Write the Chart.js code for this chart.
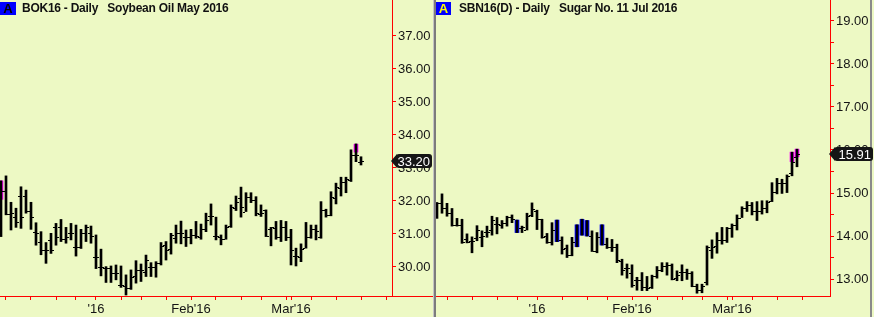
<!DOCTYPE html>
<html>
<head>
<meta charset="utf-8">
<script src="https://cdn.jsdelivr.net/npm/chart.js@4.4.1/dist/chart.umd.min.js"></script>
<style>
    html, body {
        margin: 0;
        padding: 0;
        width: 874px;
        height: 317px;
        overflow: hidden;
        background: #edf9c4;
        font-family: "Liberation Sans", Arial, sans-serif;
    }
    .panel { position: absolute; top: 0; height: 317px; z-index: 1; }
    #oilPanel { left: 0; width: 433px; }
    #sugarPanel { left: 436px; width: 438px; }
    .sep { position: absolute; top: 0; height: 317px; z-index: 0; }
    .badge {
        position: absolute;
        top: 2px;
        width: 16px;
        height: 13px;
        line-height: 13px;
        background: #0000ff;
        font-weight: bold;
        font-size: 13px;
        text-align: center;
        z-index: 2;
    }
    .title {
        position: absolute;
        top: 1px;
        font-weight: bold;
        font-size: 12px;
        line-height: 15px;
        letter-spacing: -0.25px;
        color: #111;
        white-space: pre;
        z-index: 2;
    }
</style>
</head>
<body>
<div class="sep" style="left:433px;width:1px;background:#c4c4c4"></div>
<div class="sep" style="left:434px;width:2px;background:#7c7c7c"></div>
<div class="sep" style="left:870px;width:2px;background:#8a8a8a"></div>

<div class="panel" id="oilPanel"><canvas id="oilChart" width="433" height="317"></canvas></div>
<div class="panel" id="sugarPanel"><canvas id="sugarChart" width="438" height="317"></canvas></div>

<div class="badge" style="left:0;color:#000">A</div>
<div class="title" style="left:22px">BOK16 - Daily   Soybean Oil May 2016</div>
<div class="badge" style="left:436px;width:15px;color:#ffff00">A</div>
<div class="title" style="left:459px">SBN16(D) - Daily   Sugar No. 11 Jul 2016</div>

<script>
// Kolory i czcionki
const RED = '#ff0000';
const TEXT = '#141414';
const FONT = 'Liberation Sans, Arial, sans-serif';

// BOK16 - olej sojowy, notowania dzienne (4 XII 2015 - 21 III 2016)
const oilOpen = [
    31.20, 32.31, 31.61, 31.51, 32.15, 32.15, 31.71, 31.07, 30.77, 30.52,
    30.82, 31.20, 31.20, 30.85, 31.02, 30.60, 30.62, 31.02, 31.02, 30.29,
    29.99, 29.96, 29.96, 29.81, 29.45, 29.42, 29.35, 29.73, 29.91, 29.86,
    30.01, 30.01, 30.11, 30.67, 30.55, 30.87, 31.02, 30.92, 30.92, 30.97,
    30.92, 31.14, 31.55, 30.94, 30.92, 30.84, 31.24, 31.78, 32.08, 31.68,
    32.13, 32.03, 31.61, 31.73, 31.14, 31.17, 30.92, 31.20, 30.90, 30.33,
    30.29, 30.57, 30.92, 31.14, 30.92, 31.73, 31.58, 32.08, 32.39, 32.56,
    32.64, 33.40, 33.19
];
const oilHigh = [
    32.61, 32.76, 31.96, 31.78, 32.43, 32.33, 31.96, 31.34, 31.07, 30.74,
    31.02, 31.32, 31.44, 31.20, 31.32, 31.27, 31.14, 31.27, 31.24, 30.97,
    30.54, 30.01, 30.03, 30.06, 30.03, 29.76, 29.91, 30.19, 30.09, 30.36,
    30.13, 30.16, 30.74, 30.77, 31.02, 31.27, 31.39, 31.12, 31.14, 31.38,
    31.30, 31.63, 31.91, 31.51, 30.97, 31.27, 31.88, 32.15, 32.42, 32.25,
    32.25, 32.13, 31.88, 31.73, 31.20, 31.38, 31.41, 31.38, 31.14, 30.57,
    30.70, 31.35, 31.27, 31.27, 31.98, 31.75, 32.28, 32.54, 32.72, 32.72,
    33.55, 33.73, 33.34
];
const oilLow = [
    30.92, 31.58, 31.12, 31.20, 31.17, 31.63, 31.14, 30.66, 30.37, 30.11,
    30.41, 30.66, 30.77, 30.72, 30.82, 30.33, 30.56, 30.77, 30.72, 29.95,
    29.73, 29.53, 29.53, 29.61, 29.38, 29.15, 29.32, 29.51, 29.56, 29.71,
    29.71, 29.69, 30.06, 30.21, 30.39, 30.72, 30.70, 30.62, 30.70, 30.87,
    30.84, 31.07, 31.27, 30.82, 30.67, 30.84, 31.20, 31.71, 31.51, 31.68,
    31.95, 31.55, 31.53, 30.92, 30.64, 30.84, 30.77, 30.80, 30.06, 30.03,
    30.16, 30.57, 30.87, 30.82, 30.87, 31.51, 31.55, 31.91, 32.15, 32.25,
    32.59, 33.19, 33.09
];
const oilClose = [
    32.30, 31.61, 31.63, 31.37, 31.51, 31.71, 31.51, 31.02, 30.52, 30.50,
    30.50, 30.92, 30.85, 30.92, 31.02, 30.60, 31.02, 31.20, 30.94, 30.29,
    29.99, 29.96, 29.81, 29.81, 29.45, 29.35, 29.71, 29.91, 29.91, 30.21,
    29.99, 30.11, 30.64, 30.52, 30.97, 31.02, 31.02, 30.92, 30.97, 30.94,
    31.14, 31.43, 31.53, 30.94, 30.84, 31.22, 31.83, 31.98, 31.81, 32.11,
    32.03, 31.63, 31.65, 30.94, 31.20, 30.92, 31.20, 30.90, 30.52, 30.33,
    30.54, 30.92, 31.14, 31.10, 31.73, 31.58, 32.13, 32.42, 32.56, 32.66,
    33.40, 33.40, 33.20
];
// wyróżnione (różowe) słupki
const oilPinkBars = [0, 71];
const oilPinkLow = [32.05, 33.48];
const oilPinkHigh = [32.61, 33.72];
const oilLast = 33.20;
const oilPriceTicks = [30, 31, 32, 33, 34, 35, 36, 37];
const oilDateTicks = [1, 6, 11, 15, 19, 24, 28, 33, 38, 43, 48, 52, 57, 58, 62, 67, 72, 77];
const oilDateLabels = ['', '', '', '', "'16", '', '', '', "Feb'16", '', '', '', '', "Mar'16", '', '', '', ''];

// SBN16 - cukier nr 11, notowania dzienne (3 XII 2015 - 18 III 2016)
const sugarOpen = [
    14.46, 14.76, 14.64, 14.54, 14.26, 14.26, 13.92, 13.89, 13.95, 13.98,
    14.10, 14.14, 14.29, 14.26, 14.31, 14.45, null, 14.18, 14.15, 14.49,
    14.57, 14.39, 14.00, 13.87, null, 13.91, 13.71, 13.56, null, null,
    null, 14.00, 13.66, null, 13.81, 13.75, 13.74, 13.42, 13.25, 13.13,
    12.98, 12.98, 12.82, 12.82, 13.07, 13.21, 13.30, 13.33, 13.02, 13.17,
    13.17, 13.13, 12.84, 12.74, 12.94, 13.68, 13.77, 13.91, 13.91, 14.18,
    14.26, 14.43, 14.64, 14.72, 14.59, 14.59, 14.64, 14.82, 15.03, 15.24,
    15.24, 15.46, 15.83
];
const sugarHigh = [
    14.78, 14.98, 14.76, 14.64, 14.41, 14.39, 14.05, 13.98, 14.24, 14.12,
    14.23, 14.46, 14.43, 14.36, 14.46, 14.49, 14.37, 14.23, 14.53, 14.77,
    14.60, 14.39, 14.06, 14.31, 14.37, 13.98, 13.79, 13.97, 14.26, 14.39,
    14.36, 14.12, 14.08, 14.26, 13.95, 13.92, 13.81, 13.46, 13.35, 13.33,
    13.04, 13.15, 13.06, 13.09, 13.29, 13.38, 13.38, 13.35, 13.19, 13.33,
    13.23, 13.17, 12.88, 12.88, 13.77, 13.91, 14.08, 14.20, 14.20, 14.28,
    14.49, 14.68, 14.80, 14.78, 14.80, 14.82, 14.82, 15.24, 15.34, 15.32,
    15.42, 15.95, 16.02
];
const sugarLow = [
    14.41, 14.53, 14.46, 14.23, 14.23, 13.83, 13.84, 13.61, 13.89, 13.75,
    13.97, 14.02, 14.05, 14.18, 14.23, 14.31, 14.08, 14.08, 14.14, 14.45,
    14.15, 13.95, 13.83, 13.79, 13.87, 13.58, 13.50, 13.54, 13.75, 14.02,
    14.00, 13.64, 13.61, 13.79, 13.71, 13.64, 13.38, 13.09, 13.02, 12.81,
    12.74, 12.73, 12.73, 12.78, 13.02, 13.17, 13.09, 12.98, 12.96, 12.96,
    12.99, 12.82, 12.67, 12.68, 12.86, 13.48, 13.60, 13.81, 13.85, 13.97,
    14.14, 14.43, 14.57, 14.49, 14.36, 14.51, 14.54, 14.80, 14.98, 14.99,
    15.01, 15.40, 15.61
];
const sugarClose = [
    14.76, 14.64, 14.54, 14.26, 14.26, 13.87, 13.87, 13.89, 14.15, 14.00,
    14.10, 14.37, 14.29, 14.31, 14.45, 14.39, null, 14.22, 14.46, 14.62,
    14.39, 13.97, 13.87, 14.14, null, 13.69, 13.56, 13.87, null, null,
    null, 13.66, 13.97, null, 13.74, 13.75, 13.44, 13.22, 13.25, 12.86,
    12.98, 12.82, 12.78, 13.06, 13.21, 13.30, 13.33, 12.99, 13.09, 13.17,
    13.13, 12.84, 12.74, 12.84, 13.74, 13.74, 13.91, 13.91, 14.18, 14.26,
    14.43, 14.64, 14.72, 14.59, 14.59, 14.64, 14.80, 15.03, 15.24, 15.24,
    15.40, 15.73, 15.91
];
// słupki wyróżnione na niebiesko (cały zakres) i różowo
const sugarBlueBars = [16, 24, 28, 29, 30, 33];
const sugarPinkBars = [71, 72];
const sugarPinkLow = [15.73, 15.84];
const sugarPinkHigh = [15.95, 16.02];
const sugarLast = 15.91;
const sugarPriceTicks = [13, 13.5, 14, 14.5, 15, 15.5, 16, 16.5, 17, 17.5, 18, 18.5, 19];
const sugarDateTicks = [2, 7, 12, 16, 20, 25, 30, 34, 39, 44, 49, 53, 58, 59, 63, 68, 73];
const sugarDateLabels = ['', '', '', '', "'16", '', '', '', "Feb'16", '', '', '', '', "Mar'16", '', '', ''];

/**
 * Kreski otwarcia (lewa) i zamknięcia (prawa) dla słupków OHLC
 */
function ohlcTicks(open, close) {
    return {
        id: 'ohlcTicks',
        afterDatasetsDraw(chart) {
            const { ctx, chartArea, scales } = chart;
            const meta = chart.getDatasetMeta(0);
            ctx.save();
            ctx.beginPath();
            ctx.rect(chartArea.left, chartArea.top, chartArea.right - chartArea.left, chartArea.bottom - chartArea.top);
            ctx.clip();
            ctx.fillStyle = '#000';
            meta.data.forEach((bar, i) => {
                const x = Math.round(bar.x);
                if (open[i] != null) {
                    ctx.fillRect(x - 3, Math.round(scales.y.getPixelForValue(open[i])), 2, 1);
                }
                if (close[i] != null) {
                    ctx.fillRect(x + 1, Math.round(scales.y.getPixelForValue(close[i])), 2, 1);
                }
            });
            ctx.restore();
        },
    };
}

/**
 * Etykieta ostatniej ceny na osi Y (+ opcjonalne przedłużenie osi X)
 */
function priceTag(value, extendAxis) {
    return {
        id: 'priceTag',
        afterDraw(chart) {
            const { ctx, chartArea, scales } = chart;
            const yc = Math.round(scales.y.getPixelForValue(value));
            const x0 = chartArea.right - 1;
            const x1 = chart.width;
            ctx.save();
            if (extendAxis) {
                ctx.strokeStyle = RED;
                ctx.lineWidth = 1;
                ctx.beginPath();
                ctx.moveTo(chartArea.right, chartArea.bottom + 0.5);
                ctx.lineTo(x1, chartArea.bottom + 0.5);
                ctx.stroke();
            }
            ctx.fillStyle = '#161616';
            ctx.beginPath();
            ctx.moveTo(x0, yc);
            ctx.lineTo(x0 + 6, yc - 7);
            ctx.lineTo(x0 + 6, yc + 7);
            ctx.closePath();
            ctx.fill();
            ctx.beginPath();
            ctx.roundRect(x0 + 5, yc - 7, x1 - x0 - 6, 14, 3);
            ctx.fill();
            ctx.fillStyle = '#ffffff';
            ctx.font = '13px ' + FONT;
            ctx.textAlign = 'right';
            ctx.textBaseline = 'middle';
            ctx.fillText(value.toFixed(2), x1 - 3, yc + 1);
            ctx.restore();
        },
    };
}

/**
 * Buduje wykres słupkowy OHLC dla jednego panelu
 */
function buildChart(canvasId, s) {
    const bars = s.high.map((h, i) => ({ x: i, y: [s.low[i], h] }));

    const datasets = [
        { data: bars, backgroundColor: '#000', barThickness: 2 },
    ];
    s.marks.forEach(m => {
        datasets.push({
            data: m.bars.map((b, k) => ({ x: b, y: [m.low[k], m.high[k]] })),
            backgroundColor: m.color,
            barThickness: 4,
        });
    });
    datasets.forEach(d => {
        d.grouped = false;
        d.borderWidth = 0;
    });

    return new Chart(document.getElementById(canvasId), {
        type: 'bar',
        data: { datasets: datasets },
        options: {
            responsive: false,
            animation: false,
            events: [],
            layout: { padding: 0, autoPadding: false },
            plugins: {
                legend: { display: false },
                tooltip: { enabled: false },
            },
            scales: {
                x: {
                    type: 'linear',
                    min: s.xMin,
                    max: s.xMax,
                    offset: false,
                    afterBuildTicks: sc => { sc.ticks = s.dateTicks.map(v => ({ value: v })); },
                    afterFit: sc => {
                        sc.height = 21;
                        sc.paddingLeft = 0;
                        sc.paddingRight = 0;
                    },
                    grid: { drawOnChartArea: false, offset: false, color: RED, tickColor: RED, tickLength: 4 },
                    border: { color: RED, width: 1 },
                    ticks: {
                        autoSkip: false,
                        maxRotation: 0,
                        padding: 2,
                        color: TEXT,
                        font: { family: FONT, size: 13 },
                        callback: (v, i) => s.dateLabels[i],
                    },
                },
                y: {
                    type: 'linear',
                    position: 'right',
                    min: s.yMin,
                    max: s.yMax,
                    afterBuildTicks: sc => { sc.ticks = s.priceTicks.map(v => ({ value: v })); },
                    afterFit: sc => {
                        sc.width = s.axisWidth;
                        sc.paddingTop = 0;
                        sc.paddingBottom = 0;
                    },
                    grid: { drawOnChartArea: false, color: RED, tickColor: RED, tickLength: 4 },
                    border: { color: RED, width: 1 },
                    ticks: {
                        autoSkip: false,
                        padding: 2,
                        color: TEXT,
                        font: { family: FONT, size: 13 },
                        callback: v => (Number.isInteger(v) ? v.toFixed(2) : ''),
                    },
                },
            },
        },
        plugins: [ohlcTicks(s.open, s.close), priceTag(s.last, s.extendAxis)],
    });
}

buildChart('oilChart', {
    open: oilOpen, high: oilHigh, low: oilLow, close: oilClose,
    marks: [{ bars: oilPinkBars, low: oilPinkLow, high: oilPinkHigh, color: '#ff00ff' }],
    last: oilLast,
    priceTicks: oilPriceTicks,
    dateTicks: oilDateTicks,
    dateLabels: oilDateLabels,
    xMin: -0.2, xMax: 78.2,
    yMin: 29.12, yMax: 38.09,
    axisWidth: 41,
    extendAxis: true,
});

buildChart('sugarChart', {
    open: sugarOpen, high: sugarHigh, low: sugarLow, close: sugarClose,
    marks: [
        {
            bars: sugarBlueBars,
            low: sugarBlueBars.map(i => sugarLow[i]),
            high: sugarBlueBars.map(i => sugarHigh[i]),
            color: '#0000ff',
        },
        { bars: sugarPinkBars, low: sugarPinkLow, high: sugarPinkHigh, color: '#ff00ff' },
    ],
    last: sugarLast,
    priceTicks: sugarPriceTicks,
    dateTicks: sugarDateTicks,
    dateLabels: sugarDateLabels,
    xMin: -0.2, xMax: 78.6,
    yMin: 12.605, yMax: 19.488,
    axisWidth: 44,
    extendAxis: false,
});
</script>
</body>
</html>
